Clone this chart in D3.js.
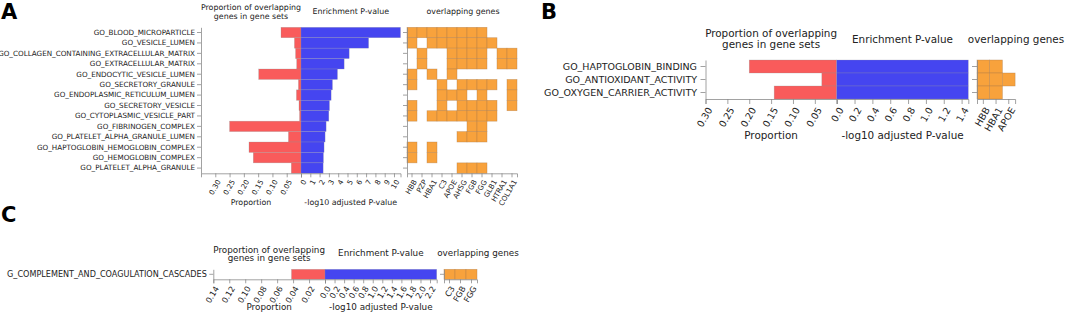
<!DOCTYPE html>
<html><head><meta charset="utf-8">
<script src="https://cdn.jsdelivr.net/npm/d3@7"></script>
<style>body{margin:0;background:#fff}svg{display:block}text{font-family:"DejaVu Sans",sans-serif}</style>
</head><body><svg id="c" width="1072" height="314"></svg>
<script>
// ---------- Panel A data ----------
const termsA = ["GO_BLOOD_MICROPARTICLE","GO_VESICLE_LUMEN","GO_COLLAGEN_CONTAINING_EXTRACELLULAR_MATRIX","GO_EXTRACELLULAR_MATRIX","GO_ENDOCYTIC_VESICLE_LUMEN","GO_SECRETORY_GRANULE","GO_ENDOPLASMIC_RETICULUM_LUMEN","GO_SECRETORY_VESICLE","GO_CYTOPLASMIC_VESICLE_PART","GO_FIBRINOGEN_COMPLEX","GO_PLATELET_ALPHA_GRANULE_LUMEN","GO_HAPTOGLOBIN_HEMOGLOBIN_COMPLEX","GO_HEMOGLOBIN_COMPLEX","GO_PLATELET_ALPHA_GRANULE"];
const propA = [0.070,0.023,0.019,0.015,0.148,0.009,0.016,0.007,0.005,0.250,0.044,0.182,0.167,0.034];
const pvalA = [10.7,7.27,5.18,4.64,3.92,3.38,3.24,3.06,2.99,2.70,2.59,2.48,2.41,2.38];
const genesA = ["HBB","PZP","HBA1","C3","APOE","AHSG","FGB","FGG","GLB1","HTRA1","COL1A1"];
const overlapA = [
  ["HBB","PZP","HBA1","C3","APOE","AHSG","FGB","FGG"],
  ["HBB","HBA1","C3","APOE","AHSG","FGB","FGG","GLB1"],
  ["PZP","APOE","AHSG","FGB","FGG","HTRA1","COL1A1"],
  ["PZP","APOE","AHSG","FGB","FGG","HTRA1","COL1A1"],
  ["HBB","HBA1","APOE"],
  ["HBB","C3","AHSG","FGB","FGG","GLB1","COL1A1"],
  ["C3","APOE","AHSG","FGG","COL1A1"],
  ["HBB","C3","AHSG","FGB","FGG","GLB1","COL1A1"],
  ["HBB","HBA1","C3","APOE","AHSG","FGB","FGG","GLB1"],
  ["FGB","FGG"],
  ["AHSG","FGB","FGG"],
  ["HBB","HBA1"],
  ["HBB","HBA1"],
  ["AHSG","FGB","FGG"]
];
const propTicksA = [0.30,0.25,0.20,0.15,0.10,0.05];
const pTicksA = [0,1,2,3,4,5,6,7,8,9,10];

// ---------- Panel B data ----------
const termsB = ["GO_HAPTOGLOBIN_BINDING","GO_ANTIOXIDANT_ACTIVITY","GO_OXYGEN_CARRIER_ACTIVITY"];
const propB = [0.200,0.034,0.143];
const pvalB = [1.475,1.475,1.475];
const genesB = ["HBB","HBA1","APOE"];
const overlapB = [["HBB","HBA1"],["HBB","HBA1","APOE"],["HBB","HBA1"]];
const propTicksB = [0.30,0.25,0.20,0.15,0.10,0.05];
const pTicksB = [0,0.2,0.4,0.6,0.8,1.0,1.2,1.4];

// ---------- Panel C data ----------
const termsC = ["G_COMPLEMENT_AND_COAGULATION_CASCADES"];
const propC = [0.042];
const pvalC = [2.34];
const genesC = ["C3","FGB","FGG"];
const overlapC = [["C3","FGB","FGG"]];
const propTicksC = [0.14,0.12,0.10,0.08,0.06,0.04,0.02];
const pTicksC = [0,0.2,0.4,0.6,0.8,1.0,1.2,1.4,1.6,1.8,2.0,2.2];

const svg = d3.select("#c");
const RED="#f95b5b", BLUE="#4545f0", ORANGE="#f8a23c", AXIS="#8a8a8a", TXT="#222";
const FONT = "DejaVu Sans";

function drawPanel(d, L) {
  const g = svg.append("g");
  const y = d3.scaleBand().domain(d.terms).range([L.top, L.bottom]);
  const xProp = d3.scaleLinear().domain([L.propMax, 0]).range([L.redL, L.zero]);
  const xP = d3.scaleLinear().domain([0, d3.max(d.pval)]).range([L.zero, L.blueR]);
  const xG = d3.scaleBand().domain(d.genes).range([L.hmL, L.hmL + L.cellW * d.genes.length]);

  g.append("g").selectAll("rect").data(d.terms).join("rect")
    .attr("x", (t,i)=>xProp(d.prop[i])).attr("y", t=>y(t))
    .attr("width", (t,i)=>L.zero - xProp(d.prop[i])).attr("height", y.bandwidth())
    .attr("fill", RED).attr("stroke","rgba(150,150,150,0.55)").attr("stroke-width",0.5);
  g.append("g").selectAll("rect").data(d.terms).join("rect")
    .attr("x", L.zero).attr("y", t=>y(t))
    .attr("width", (t,i)=>xP(d.pval[i]) - L.zero).attr("height", y.bandwidth())
    .attr("fill", BLUE).attr("stroke","rgba(150,150,170,0.55)").attr("stroke-width",0.5);

  const cells = [];
  d.terms.forEach((t,i)=> d.overlap[i].forEach(gn => cells.push({t, gn})));
  g.append("g").selectAll("rect").data(cells).join("rect")
    .attr("x", c=>xG(c.gn)).attr("y", c=>y(c.t))
    .attr("width", xG.bandwidth()).attr("height", y.bandwidth())
    .attr("fill", ORANGE).attr("stroke","rgba(175,125,75,0.6)").attr("stroke-width",0.6);

  const style = (sel) => {
    sel.attr("font-family", FONT).attr("font-size", L.tickFont);
    sel.select(".domain").attr("stroke", AXIS).attr("stroke-width", 0.8);
    sel.selectAll(".tick line").attr("stroke", AXIS).attr("stroke-width", 0.8);
    sel.selectAll(".tick text").attr("fill", TXT);
  };
  const rot = (sel) => sel.selectAll(".tick text")
    .attr("x",0).attr("y",0).attr("dy","0.35em").attr("text-anchor","end")
    .attr("transform", `translate(${L.rx},${L.ry}) rotate(-60)`);

  const ay = g.append("g").attr("transform", `translate(${L.redL},0)`)
    .call(d3.axisLeft(y).tickSize(L.tickLen).tickSizeOuter(0).tickPadding(L.pad));
  style(ay);
  const ah = g.append("g").attr("transform", `translate(${L.hmL},0)`)
    .call(d3.axisLeft(y).tickSize(L.tickLen).tickSizeOuter(0).tickFormat(""));
  style(ah);

  const b1 = g.append("g").attr("transform", `translate(0,${L.bottom})`)
    .call(d3.axisBottom(xProp).tickValues(d.propTicks).tickFormat(d3.format(".2f")).tickSize(L.tickLen).tickSizeOuter(L.tickLen));
  style(b1); rot(b1);
  const b2 = g.append("g").attr("transform", `translate(0,${L.bottom})`)
    .call(d3.axisBottom(xP).tickValues(d.pTicks).tickFormat(d3.format(L.pFmt)).tickSize(L.tickLen).tickSizeOuter(L.tickLen));
  style(b2); rot(b2);
  const b3 = g.append("g").attr("transform", `translate(0,${L.bottom})`)
    .call(d3.axisBottom(xG).tickSize(L.tickLen).tickSizeOuter(L.tickLen));
  style(b3); rot(b3);

  const txt = (x, yy, s, fs) => g.append("text").attr("x", x).attr("y", yy)
    .attr("text-anchor","middle").attr("font-size", fs).attr("fill", TXT).attr("font-family", FONT).text(s);
  const cR = (L.redL + L.zero)/2, cB = (L.zero + L.blueR)/2;
  txt(cR, L.t1, "Proportion of overlapping", L.titleFont);
  txt(cR, L.t2, "genes in gene sets", L.titleFont);
  txt(cB, L.tm, "Enrichment P-value", L.titleFont);
  txt(L.hmTitleX, L.tm, "overlapping genes", L.titleFont);
  txt(cR, L.axY, "Proportion", L.titleFont);
  txt(cB, L.axY, "-log10 adjusted P-value", L.titleFont);
}

drawPanel({terms:termsA, prop:propA, pval:pvalA, genes:genesA, overlap:overlapA, propTicks:propTicksA, pTicks:pTicksA},
  {top:27.3, bottom:173.3, redL:201, zero:301, blueR:400.5, hmL:407, cellW:10, propMax:0.35,
   tickFont:7.2, titleFont:7.9, tickLen:4, pad:2, rx:3, ry:7, pFmt:"d",
   t1:9.5, t2:18.5, tm:14, hmTitleX:463, axY:204.5});

drawPanel({terms:termsB, prop:propB, pval:pvalB, genes:genesB, overlap:overlapB, propTicks:propTicksB, pTicks:pTicksB},
  {top:60, bottom:99, redL:705.5, zero:836.7, blueR:968.3, hmL:977, cellW:12.7, propMax:0.30,
   tickFont:9.5, titleFont:10.4, tickLen:5, pad:3.5, rx:4, ry:9, pFmt:".1f",
   t1:37, t2:48, tm:42.7, hmTitleX:1016, axY:138.5});

drawPanel({terms:termsC, prop:propC, pval:pvalC, genes:genesC, overlap:overlapC, propTicks:propTicksC, pTicks:pTicksC},
  {top:269.3, bottom:279.3, redL:213.3, zero:325, blueR:436.7, hmL:444, cellW:11, propMax:0.14,
   tickFont:8.1, titleFont:8.8, tickLen:4, pad:2.5, rx:3, ry:7.5, pFmt:".1f",
   t1:253, t2:261.3, tm:256.3, hmTitleX:478, axY:309.5});

const letters = [["A",1,19],["B",541,19],["C",1,222]];
svg.selectAll("text.letter").data(letters).join("text").attr("class","letter")
  .attr("x", d=>d[1]).attr("y", d=>d[2]).text(d=>d[0])
  .attr("font-family","Liberation Sans, Arial, sans-serif").attr("font-weight","bold").attr("font-size",21).attr("fill","#000");
</script></body></html>
